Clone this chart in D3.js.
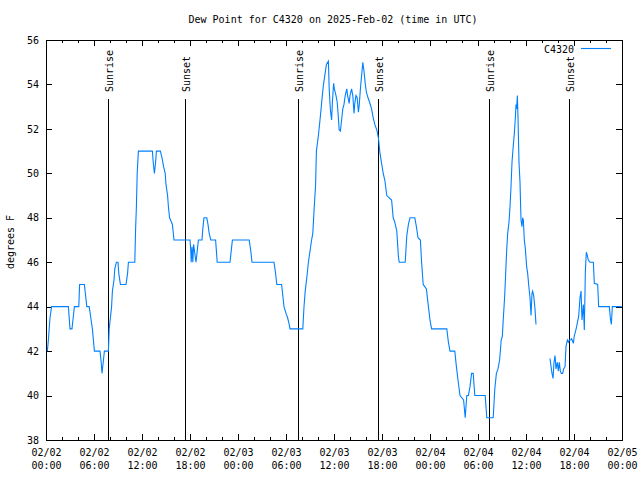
<!DOCTYPE html>
<html>
<head>
<meta charset="utf-8">
<script src="https://cdn.jsdelivr.net/npm/d3@7"></script>
<style>
  body { margin: 0; background: #fff; }
  svg text { font-family: "DejaVu Sans Mono", monospace; font-size: 10px; fill: #000; }
</style>
</head>
<body>
<svg id="chart" width="640" height="480"></svg>
<script>
// hours after 2025-02-02 00:00 UTC, and dew point (F); null marks the data gap
const hours = [
  0.17, 0.3, 0.4, 0.5, 0.7, 2.8, 2.9, 3.0, 3.25, 3.4, 3.55, 4.1, 4.2, 4.8, 4.95, 5.1, 5.4, 5.6, 5.8, 6.05,
  6.75, 6.9, 7.0, 7.15, 7.3, 7.8, 7.9, 8.05, 8.2, 8.3, 8.5, 8.6, 8.8, 9.0, 9.1, 9.3, 10.0, 10.2, 10.3, 11.1,
  11.2, 11.3, 11.4, 11.55, 13.3, 13.4, 13.55, 13.7, 13.8, 14.3, 14.5, 14.7, 14.9, 15.0, 15.2, 15.3, 15.45, 15.8, 16.0, 18.0,
  18.1, 18.15, 18.25, 18.35, 18.45, 18.75, 18.9, 19.05, 19.5, 19.6, 19.75, 20.1, 20.25, 20.4, 20.6, 21.2, 21.4, 23.0, 23.15, 23.3,
  25.4, 25.6, 25.75, 28.5, 28.7, 28.85, 29.45, 29.6, 29.75, 30.0, 30.2, 30.4, 30.5, 32.1, 32.25, 32.4, 32.6, 32.8, 33.0, 33.2,
  33.35, 33.5, 33.7, 33.8, 34.05, 34.25, 34.45, 34.65, 34.85, 35.05, 35.3, 35.4, 35.55, 35.7, 35.8, 35.95, 36.05, 36.25, 36.4, 36.5,
  36.65, 36.8, 36.95, 37.1, 37.25, 37.4, 37.6, 37.7, 37.9, 38.0, 38.2, 38.35, 38.5, 38.6, 38.75, 38.9, 39.05, 39.15, 39.3, 39.45,
  39.6, 39.75, 39.9, 40.05, 40.25, 40.45, 40.7, 40.9, 41.1, 41.35, 41.55, 41.75, 41.95, 42.15, 42.35, 42.6, 43.2, 43.4, 43.6, 43.85,
  44.05, 44.15, 44.9, 45.1, 45.3, 45.5, 46.1, 46.3, 46.5, 46.8, 46.95, 47.15, 47.55, 47.8, 48.0, 48.2, 50.1, 50.3, 50.5, 51.1,
  51.3, 51.5, 51.75, 52.2, 52.4, 52.6, 52.8, 53.0, 53.2, 53.4, 53.6, 54.9, 55.1, 55.9, 56.1, 56.3, 56.5, 56.7, 56.9, 57.04,
  57.17, 57.33, 57.46, 57.58, 57.71, 57.875, 58.0, 58.125, 58.25, 58.42, 58.54, 58.67, 58.75, 58.83, 58.92, 59.0, 59.125, 59.25, 59.375, 59.5,
  59.58, 59.67, 59.79, 59.92, 60.08, 60.21, 60.33, 60.5, 60.625, 60.75, 60.83, 60.96, 61.125, 61.25, 62.1,
  63.0, 63.13, 63.25, 63.38, 63.5, 63.63, 63.75, 63.92, 64.04, 64.17, 64.29, 64.42, 64.58, 64.71, 64.88, 65.0, 65.17, 65.29, 65.42, 65.58,
  65.71, 65.92, 66.04, 66.17, 66.33, 66.46, 66.58, 66.75, 66.88, 67.0, 67.17, 67.29, 67.42, 67.54, 67.67, 67.79, 68.0, 68.42, 68.54, 68.96,
  69.08, 70.42, 70.54, 70.67, 70.79, 71.96
];
const dewpoint = [
  42, 42.5, 43, 43.5, 44, 44, 43.5, 43, 43, 43.5, 44, 44, 45, 45, 44.5, 44, 44, 43.5, 43, 42,
  42, 41.5, 41, 41.5, 42, 42, 43, 43.5, 44, 44.7, 45.2, 45.7, 46, 46, 45.5, 45, 45, 45.5, 46, 46,
  47.5, 48.5, 50, 51, 51, 50.5, 50, 50.5, 51, 51, 50.7, 50.3, 50, 49.5, 49, 48.5, 48, 47.7, 47, 47,
  46.5, 46, 46.7, 46, 46.8, 46, 46.5, 47, 47, 47.5, 48, 48, 47.7, 47.3, 47, 47, 46, 46, 46.5, 47,
  47, 46.5, 46, 46, 45.5, 45, 45, 44.5, 44, 43.7, 43.5, 43.2, 43, 43, 44, 44.7, 45.3, 46, 46.5, 47,
  47.3, 48.3, 49.5, 51, 51.7, 52.4, 53.15, 53.9, 54.4, 54.9, 55.05, 53.8, 52.85, 52.4, 53.2, 54.05, 53.8, 53.5, 53.2, 52.75,
  51.95, 51.9, 52.4, 52.9, 53.1, 53.5, 53.8, 53.5, 53.15, 53.5, 53.8, 53.5, 52.7, 53.15, 53.5, 53.4, 52.75, 53.05, 53.8, 54.4,
  55.0, 54.6, 54.05, 53.65, 53.4, 53.2, 52.9, 52.5, 52.2, 51.95, 51.6, 50.9, 50.45, 50.0, 49.7, 49.0, 48.8, 48, 47.8, 47.4,
  46.25, 46, 46, 47.2, 47.7, 48, 48, 47.6, 47.1, 47, 46, 45, 44.8, 44, 43.4, 43, 43, 42.4, 42, 42,
  41.3, 40.7, 40, 39.8, 39, 40, 40, 40.4, 41, 41, 40, 40, 39, 39, 40.3, 41, 41.2, 41.6, 42.5, 42.65,
  43.5, 44.45, 45.5, 46.5, 47.3, 47.8, 48.5, 49.4, 50.5, 51.3, 51.8, 52.5, 53.1, 52.9, 53.5, 52.5, 50.5, 49.6, 47.9, 47.6,
  48.0, 47.9, 47.0, 46.6, 45.8, 45.5, 45.0, 44.4, 43.6, 44.6, 44.7, 44.5, 43.9, 43.2, null,
  41.67, 41.3, 41.0, 40.77, 41.5, 41.8, 41.2, 41.5, 41.1, 41.5, 41.1, 41.0, 41.0, 41.2, 41.3, 42.2, 42.5, 42.4, 42.5, 42.5,
  42.55, 42.35, 42.7, 42.85, 43.1, 43.35, 43.55, 44.4, 44.7, 43.4, 44.1, 42.95, 45.6, 46.45, 46.3, 46.1, 46.0, 46.0, 45.05, 45.0,
  44.0, 44.0, 43.5, 43.2, 44.0, 44.0
];

// sunrise / sunset marks, hours after start
const sunLabels = ["Sunrise", "Sunset", "Sunrise", "Sunset", "Sunrise", "Sunset"];
const sunHours  = [7.71, 17.42, 31.54, 41.46, 55.42, 65.42];

const yTicks = [38, 40, 42, 44, 46, 48, 50, 52, 54, 56];

const start = Date.UTC(2025, 1, 2);
const toDate = h => new Date(start + h * 3600e3);

const width = 640, height = 480;
const margin = { top: 40, right: 18, bottom: 40, left: 46 };
const svg = d3.select("#chart");

const x = d3.scaleUtc()
  .domain([toDate(0), toDate(72)])
  .range([margin.left, width - margin.right]);
const y = d3.scaleLinear()
  .domain([38, 56])
  .range([height - margin.bottom, margin.top]);

const crisp = g => g.attr("shape-rendering", "crispEdges");

// minor ticks every 2 hours, top and bottom
const minor = x.ticks(d3.utcHour.every(2));
svg.append("g").attr("transform", `translate(0,${y(38)})`)
  .call(d3.axisBottom(x).tickValues(minor).tickSize(-3).tickFormat(""))
  .call(g => g.select(".domain").remove()).call(crisp);
svg.append("g").attr("transform", `translate(0,${y(56)})`)
  .call(d3.axisTop(x).tickValues(minor).tickSize(-3).tickFormat(""))
  .call(g => g.select(".domain").remove()).call(crisp);

// major x ticks every 6 hours with two-line labels
const xAxis = svg.append("g").attr("transform", `translate(0,${y(38)})`)
  .call(d3.axisBottom(x).ticks(d3.utcHour.every(6)).tickSize(-6).tickPadding(9)
    .tickFormat(""))
  .call(g => g.select(".domain").remove()).call(crisp);
xAxis.selectAll(".tick text").each(function (d) {
  const t = d3.select(this).attr("y", 9).attr("dy", null).attr("font-family", null).attr("font-size", null);
  t.append("tspan").attr("x", 0).attr("dy", "0.71em").text(d3.utcFormat("%m/%d")(d));
  t.append("tspan").attr("x", 0).attr("dy", 13).text(d3.utcFormat("%H:%M")(d));
});
svg.append("g").attr("transform", `translate(0,${y(56)})`)
  .call(d3.axisTop(x).ticks(d3.utcHour.every(6)).tickSize(-6).tickFormat(""))
  .call(g => g.select(".domain").remove()).call(crisp);

// y ticks left (labelled) and right
svg.append("g").attr("transform", `translate(${margin.left},0)`)
  .call(d3.axisLeft(y).tickValues(yTicks).tickSize(-6).tickPadding(7))
  .call(g => g.select(".domain").remove())
  .call(g => g.selectAll("text").attr("font-family", null).attr("font-size", null))
  .call(crisp);
svg.append("g").attr("transform", `translate(${width - margin.right},0)`)
  .call(d3.axisRight(y).tickValues(yTicks).tickSize(-6).tickFormat(""))
  .call(g => g.select(".domain").remove()).call(crisp);

// frame
svg.append("rect")
  .attr("x", margin.left).attr("y", margin.top)
  .attr("width", width - margin.left - margin.right)
  .attr("height", height - margin.top - margin.bottom)
  .attr("fill", "none").attr("stroke", "#000").call(crisp);

// sunrise / sunset lines
sunHours.forEach((h, i) => {
  const sx = Math.round(x(toDate(h))) + 0.5;
  svg.append("line")
    .attr("x1", sx).attr("x2", sx).attr("y1", 99).attr("y2", y(38))
    .attr("stroke", "#000").call(crisp);
  svg.append("text")
    .attr("transform", `translate(${sx + 4.5},92) rotate(-90)`)
    .attr("text-anchor", "start")
    .text(sunLabels[i]);
});

// data line
const data = hours.map((h, i) => ({ t: toDate(h), v: dewpoint[i] }));
svg.append("path")
  .datum(data)
  .attr("fill", "none")
  .attr("stroke", "#0080ff")
  .attr("stroke-width", 1.1)
  .attr("d", d3.line().defined(d => d.v != null).x(d => x(d.t)).y(d => y(d.v)));

// title, y label, legend
svg.append("text").attr("x", 333).attr("y", 23).attr("text-anchor", "middle")
  .text("Dew Point for C4320 on 2025-Feb-02 (time in UTC)");
svg.append("text").attr("transform", "translate(14,242) rotate(-90)")
  .attr("text-anchor", "middle").text("degrees F");
svg.append("text").attr("x", 574).attr("y", 53).attr("text-anchor", "end").text("C4320");
svg.append("line").attr("x1", 581).attr("x2", 611).attr("y1", 48.5).attr("y2", 48.5)
  .attr("stroke", "#0080ff").attr("stroke-width", 1.1);
</script>
</body>
</html>
